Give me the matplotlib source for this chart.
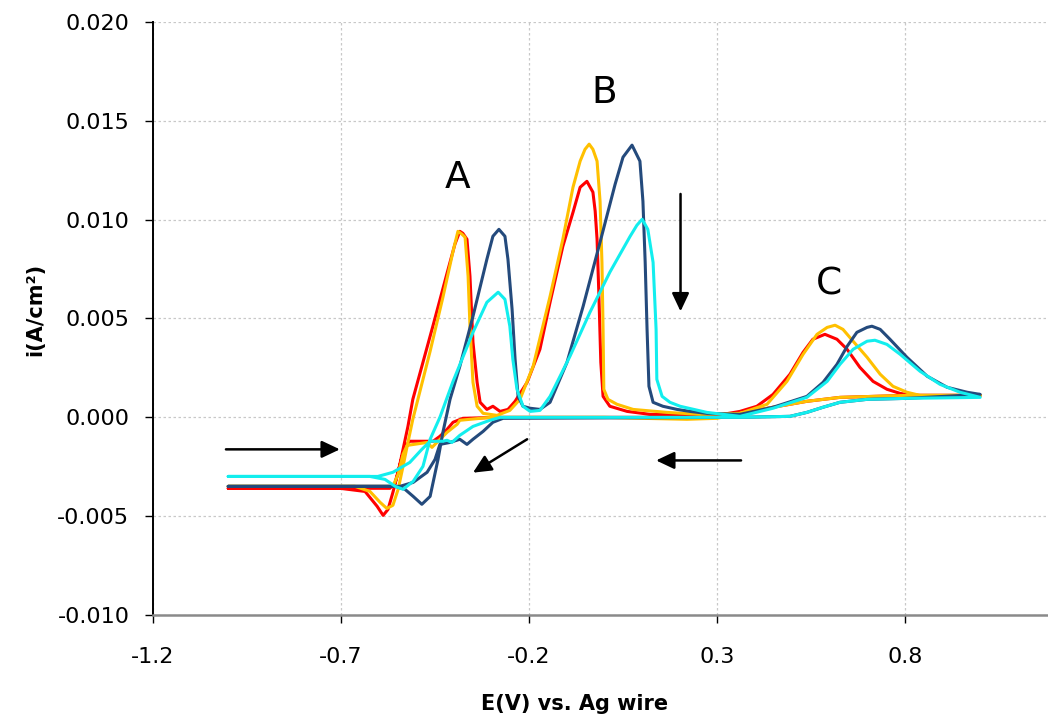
import matplotlib
matplotlib.use("Agg")
import matplotlib.pyplot as plt

# Cyclic voltammograms: potential (V vs. Ag wire) and current density (A/cm2).
# Each trace: forward scan from -1.0 V to +1.0 V, followed by the return scan.
E_red = [-1.000, -0.703, -0.636, -0.604, -0.588, -0.575, -0.562, -0.548, -0.535, -0.522,
         -0.509, -0.490, -0.455, -0.418, -0.397, -0.384, -0.376, -0.365, -0.357, -0.349,
         -0.338, -0.330, -0.312, -0.296, -0.277, -0.256, -0.237, -0.205, -0.171, -0.144,
         -0.110, -0.083, -0.064, -0.046, -0.030, -0.024, -0.019, -0.014, -0.009, -0.003,
         0.015, 0.061, 0.122, 0.300, 0.361, 0.406, 0.449, 0.494, 0.529, 0.555,
         0.587, 0.619, 0.646, 0.680, 0.715, 0.752, 0.787, 0.821, 1.000,
         0.805, 0.715, 0.627, 0.539, 0.449, 0.361, 0.273, 0.122, -0.277, -0.376,
         -0.402, -0.418, -0.437, -0.455, -0.490, -0.517, -0.530, -0.543, -0.556, -0.570,
         -0.703, -1.000]
I_red = [-0.00359, -0.00359, -0.00375, -0.00450, -0.00496, -0.00466, -0.00380, -0.00278, -0.00162, -0.00046,
         0.00091, 0.00223, 0.00466, 0.00729, 0.00876, 0.00941, 0.00931, 0.00901, 0.00714, 0.00380,
         0.00177, 0.00076, 0.00040, 0.00056, 0.00030, 0.00040, 0.00081, 0.00177, 0.00344, 0.00582,
         0.00865, 0.01037, 0.01164, 0.01194, 0.01139, 0.01043, 0.00901, 0.00612, 0.00278, 0.00106,
         0.00056, 0.00030, 0.00015, 0.00010, 0.00030, 0.00056, 0.00116, 0.00218, 0.00329, 0.00395,
         0.00420, 0.00395, 0.00344, 0.00253, 0.00182, 0.00142, 0.00121, 0.00111, 0.00111,
         0.00111, 0.00106, 0.00101, 0.00081, 0.00051, 0.00020, 0.00005, 0.00000, 0.00000, -0.00005,
         -0.00025, -0.00061, -0.00096, -0.00121, -0.00121, -0.00121, -0.00147, -0.00238, -0.00329, -0.00359,
         -0.00359, -0.00359]

E_orange = [-1.000, -0.663, -0.623, -0.596, -0.578, -0.562, -0.548, -0.535, -0.522, -0.509,
            -0.490, -0.463, -0.429, -0.402, -0.389, -0.378, -0.370, -0.362, -0.357, -0.349,
            -0.338, -0.322, -0.285, -0.251, -0.224, -0.189, -0.144, -0.110, -0.083, -0.064,
            -0.051, -0.040, -0.030, -0.019, -0.011, -0.006, -0.003, -0.001, 0.010, 0.034,
            0.077, 0.167, 0.255, 0.361, 0.433, 0.486, 0.529, 0.566, 0.593, 0.614,
            0.635, 0.662, 0.699, 0.734, 0.768, 0.805, 0.840, 1.000,
            0.805, 0.715, 0.627, 0.539, 0.449, 0.361, 0.300, 0.220, 0.100, 0.000,
            -0.300, -0.357, -0.384, -0.391, -0.418, -0.445, -0.458, -0.471, -0.524, -0.535,
            -0.548, -0.562, -1.000]
I_orange = [-0.00349, -0.00349, -0.00375, -0.00430, -0.00461, -0.00445, -0.00364, -0.00248, -0.00127, -0.00010,
            0.00132, 0.00334, 0.00607, 0.00840, 0.00941, 0.00926, 0.00911, 0.00714, 0.00461, 0.00177,
            0.00056, 0.00020, 0.00010, 0.00035, 0.00091, 0.00258, 0.00612, 0.00901, 0.01164, 0.01296,
            0.01356, 0.01382, 0.01356, 0.01296, 0.01093, 0.00784, 0.00445, 0.00142, 0.00091, 0.00066,
            0.00040, 0.00025, 0.00015, 0.00020, 0.00066, 0.00182, 0.00319, 0.00420, 0.00455, 0.00466,
            0.00445, 0.00385, 0.00304, 0.00218, 0.00157, 0.00127, 0.00111, 0.00111,
            0.00111, 0.00106, 0.00101, 0.00081, 0.00051, 0.00020, -0.00005, -0.00010, -0.00005, 0.00000,
            0.00000, -0.00010, -0.00015, -0.00035, -0.00076, -0.00127, -0.00152, -0.00127, -0.00142, -0.00187,
            -0.00288, -0.00349, -0.00349]

E_blue = [-1.000, -0.556, -0.530, -0.508, -0.485, -0.463, -0.442, -0.429, -0.410, -0.384,
          -0.349, -0.312, -0.296, -0.280, -0.264, -0.256, -0.245, -0.237, -0.229, -0.216,
          -0.197, -0.171, -0.144, -0.099, -0.056, -0.011, 0.029, 0.050, 0.074, 0.095,
          0.103, 0.109, 0.114, 0.119, 0.130, 0.156, 0.194, 0.228, 0.273, 0.361,
          0.449, 0.539, 0.582, 0.619, 0.646, 0.672, 0.699, 0.712, 0.734, 0.760,
          0.805, 0.859, 0.912, 0.965, 1.000,
          0.805, 0.699, 0.627, 0.582, 0.539, 0.494, 0.361, -0.269, -0.296, -0.322,
          -0.349, -0.365, -0.384, -0.410, -0.437, -0.450, -0.471, -0.508, -0.543, -1.000]
I_blue = [-0.00349, -0.00349, -0.00364, -0.00400, -0.00440, -0.00400, -0.00213, -0.00076, 0.00091, 0.00258,
          0.00511, 0.00800, 0.00916, 0.00951, 0.00916, 0.00800, 0.00547, 0.00294, 0.00106, 0.00056,
          0.00046, 0.00040, 0.00076, 0.00278, 0.00562, 0.00886, 0.01179, 0.01316, 0.01377, 0.01296,
          0.01093, 0.00784, 0.00445, 0.00157, 0.00076, 0.00056, 0.00040, 0.00030, 0.00020, 0.00015,
          0.00051, 0.00106, 0.00177, 0.00268, 0.00359, 0.00430, 0.00455, 0.00461, 0.00445, 0.00395,
          0.00304, 0.00208, 0.00152, 0.00127, 0.00116,
          0.00096, 0.00091, 0.00076, 0.00051, 0.00025, 0.00005, 0.00000, -0.00005, -0.00025, -0.00071,
          -0.00111, -0.00137, -0.00111, -0.00127, -0.00137, -0.00213, -0.00278, -0.00329, -0.00349, -0.00349]

E_cyan = [-1.000, -0.623, -0.583, -0.556, -0.535, -0.508, -0.482, -0.463, -0.437, -0.402,
          -0.349, -0.312, -0.282, -0.264, -0.251, -0.243, -0.232, -0.216, -0.197, -0.171,
          -0.144, -0.091, -0.038, 0.015, 0.069, 0.087, 0.101, 0.116, 0.130, 0.138,
          0.140, 0.154, 0.175, 0.202, 0.273, 0.361, 0.449, 0.539, 0.593, 0.627,
          0.662, 0.699, 0.720, 0.752, 0.787, 0.840, 0.893, 0.946, 1.000,
          0.805, 0.699, 0.627, 0.582, 0.539, 0.494, 0.361, -0.277, -0.304, -0.349,
          -0.384, -0.405, -0.418, -0.429, -0.463, -0.485, -0.517, -0.562, -0.602, -1.000]
I_cyan = [-0.00299, -0.00299, -0.00314, -0.00349, -0.00364, -0.00324, -0.00248, -0.00111, 0.00000, 0.00182,
          0.00430, 0.00582, 0.00633, 0.00597, 0.00461, 0.00294, 0.00142, 0.00056, 0.00030, 0.00035,
          0.00106, 0.00309, 0.00531, 0.00734, 0.00916, 0.00972, 0.01002, 0.00951, 0.00784, 0.00445,
          0.00192, 0.00106, 0.00076, 0.00056, 0.00025, 0.00005, 0.00046, 0.00101, 0.00182, 0.00268,
          0.00344, 0.00385, 0.00390, 0.00369, 0.00319, 0.00233, 0.00167, 0.00127, 0.00101,
          0.00096, 0.00091, 0.00076, 0.00051, 0.00025, 0.00005, 0.00000, 0.00000, -0.00015, -0.00046,
          -0.00091, -0.00127, -0.00116, -0.00121, -0.00121, -0.00162, -0.00228, -0.00278, -0.00299, -0.00299]

x_ticks = [-1.2, -0.7, -0.2, 0.3, 0.8]
y_ticks = [-0.010, -0.005, 0.000, 0.005, 0.010, 0.015, 0.020]

# Peak labels and scan-direction arrows (tail -> head)
peak_labels = ["A", "B", "C"]
peak_label_pos = [(-0.389, 0.0121), (0.000, 0.0164), (0.598, 0.0067)]
arrow_tails = [(-1.006, -0.00162), (0.203, 0.0113), (0.364, -0.00218), (-0.205, -0.00111)]
arrow_heads = [(-0.703, -0.00162), (0.203, 0.00536), (0.138, -0.00218), (-0.349, -0.00280)]

fig = plt.figure(figsize=(10.48, 7.18), dpi=100)
ax = fig.add_axes([153 / 1048, 1 - 615 / 718, (1048 - 153) / 1048, (615 - 22) / 718])

traces = [
    (E_red, I_red, "#FF0000"),
    (E_orange, I_orange, "#FFC000"),
    (E_blue, I_blue, "#244A7C"),
    (E_cyan, I_cyan, "#12EEEE"),
]
for i, (e, cur, col) in enumerate(traces):
    ax.plot(e, cur, color=col, lw=2.2, solid_joinstyle="round",
            solid_capstyle="round", zorder=3 + i)

for tail, head in zip(arrow_tails, arrow_heads):
    ax.annotate("", xy=head, xytext=tail,
                arrowprops=dict(arrowstyle="-|>,head_length=0.55,head_width=0.26",
                                mutation_scale=20, color="black", lw=1.8,
                                shrinkA=0, shrinkB=0),
                zorder=10)

for lab, (px, py) in zip(peak_labels, peak_label_pos):
    ax.text(px, py, lab, fontsize=27, ha="center", va="center", color="black")

ax.set_xlim(-1.2, -1.2 + (1048 - 153) / 376)
ax.set_ylim(-0.010, 0.020)
ax.set_xticks(x_ticks)
ax.set_xticklabels([f"{v:.1f}" for v in x_ticks])
ax.set_yticks(y_ticks)
ax.set_yticklabels([f"{v:.3f}" for v in y_ticks])

ax.grid(True, color="#c8c8c8", lw=0.9, linestyle=(0, (2, 2)), zorder=0)
ax.set_axisbelow(True)

for side in ("top", "right"):
    ax.spines[side].set_visible(False)
ax.spines["left"].set_color("black")
ax.spines["left"].set_linewidth(1.4)
ax.spines["bottom"].set_color("#8a8a8a")
ax.spines["bottom"].set_linewidth(1.8)

ax.tick_params(axis="both", direction="out", length=6, width=1.0, color="black",
               labelsize=16)
ax.tick_params(axis="x", pad=17)
ax.tick_params(axis="y", pad=11)

ax.set_xlabel("E(V) vs. Ag wire", fontsize=15, fontweight="bold")
ax.set_ylabel("i(A/cm²)", fontsize=15, fontweight="bold")
ax.xaxis.set_label_coords((575 - 153) / 895, (615 - 694) / 593)
ax.yaxis.set_label_coords((45 - 153) / 895, (615 - 309) / 593)

fig.savefig("out.png", dpi=100)
